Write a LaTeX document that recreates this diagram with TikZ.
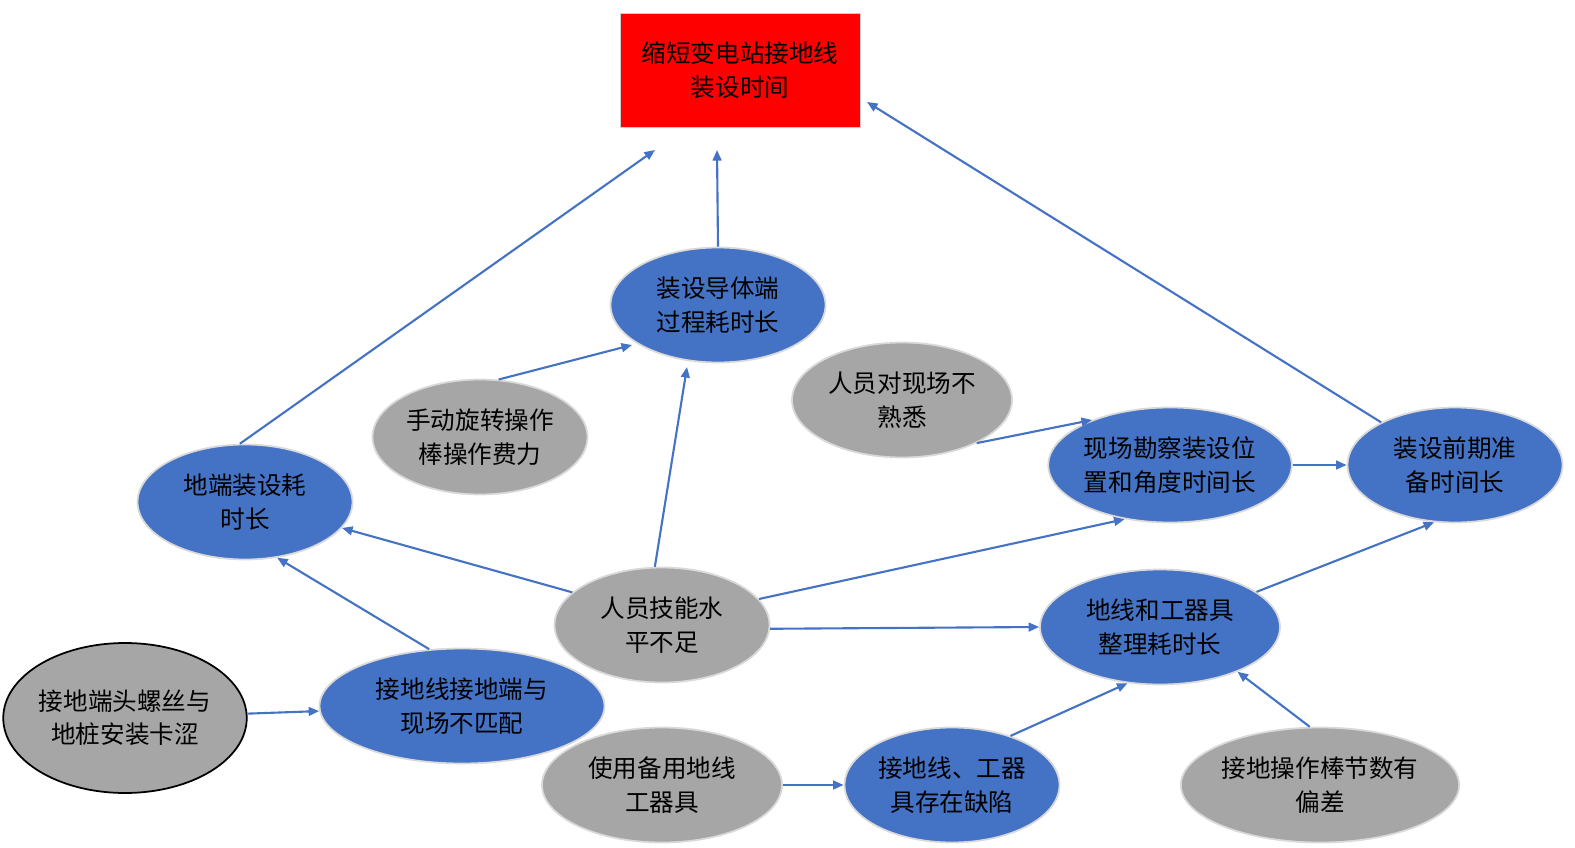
\documentclass[tikz,border=0pt]{standalone}
\usepackage{fontspec}
\setmainfont{Noto Sans CJK SC}
\usetikzlibrary{shapes.geometric,arrows.meta}
\definecolor{nodeblue}{RGB}{68,114,196}
\definecolor{nodegray}{RGB}{166,166,166}
\definecolor{goalred}{RGB}{255,0,0}

\begin{document}
\begin{tikzpicture}[
            x=0.02cm, y=-0.02cm,
            font=\fontsize{14}{19}\selectfont,
            cause/.style={ellipse, draw=black!15, line width=1pt,
                inner sep=0pt, align=center, text=black},
            bluebox/.style={cause, fill=nodeblue, minimum width=4.3cm, minimum height=2.3cm},
            graybox/.style={cause, fill=nodegray, minimum width=4.3cm, minimum height=2.3cm},
            goal/.style={rectangle, draw=black!20, fill=goalred, minimum width=4.8cm,
                minimum height=2.28cm, align=center},
            arr/.style={-{Triangle[length=6pt,width=5pt]}, draw=nodeblue, line width=1.2pt},
        ]
            \useasboundingbox (0,0) rectangle (1575,848);

            % goal
            \node [goal] (top) at (740,70) {缩短变电站接地线\\装设时间};

            % causes
            \node [bluebox] (conductor) at (718,305) {装设导体端\\过程耗时长};
            \node [graybox] (manual)    at (480,437) {手动旋转操作\\棒操作费力};
            \node [graybox, minimum width=4.4cm] (unfamiliar) at (902,400) {人员对现场不\\熟悉};
            \node [bluebox, minimum width=4.8cm] (survey) at (1170,465) {现场勘察装设位\\置和角度时间长};
            \node [bluebox] (prepare)   at (1455,465) {装设前期准\\备时间长};
            \node [bluebox] (earthend)  at (245,502) {地端装设耗\\时长};
            \node [graybox] (skill)     at (662,625) {人员技能水\\平不足};
            \node [bluebox, minimum width=4.8cm] (tidy) at (1160,627) {地线和工器具\\整理耗时长};
            \node [graybox, draw=black, minimum width=4.8cm, minimum height=3cm] (screw) at (125,718) {接地端头螺丝与\\地桩安装卡涩};
            \node [bluebox, minimum width=5.7cm] (mismatch) at (462,706) {接地线接地端与\\现场不匹配};
            \node [graybox, minimum width=4.8cm] (spare) at (662,785) {使用备用地线\\工器具};
            \node [bluebox] (defect)    at (952,785) {接地线、工器\\具存在缺陷};
            \node [graybox, minimum width=4.8cm] (rodcount) at (1320,785) {接地操作棒节数有\\偏差};

            % free ends of connectors
            \coordinate (top-l) at (655,150);
            \coordinate (top-m) at (717,150);
            \coordinate (top-r) at (867,102);
            \coordinate (cond-in) at (687,367);
            \coordinate (cond-sw) at (632,345);

            \draw[arr] (earthend.95) -- (top-l);
            \draw[arr] (conductor.north) -- (top-m);
            \draw[arr] (prepare.150) -- (top-r);
            \draw[arr] (manual.72) -- (cond-sw);
            \draw[arr] (skill.97) -- (cond-in);
            \draw[arr] (unfamiliar.-30) -- (survey.150);
            \draw[arr] (survey) -- (prepare);
            \draw[arr] (skill.160) -- (earthend.-15);
            \draw[arr] (skill.15) -- (survey.-130);
            \draw[arr] (skill.-2) -- (tidy.west);
            \draw[arr] (mismatch.120) -- (earthend.-60);
            \draw[arr] (screw) -- (mismatch);
            \draw[arr] (spare) -- (defect);
            \draw[arr] (defect.40) -- (tidy.-120);
            \draw[arr] (tidy.20) -- (prepare.-110);
            \draw[arr] (rodcount.100) -- (tidy.-30);

        \end{tikzpicture}
\end{document}
